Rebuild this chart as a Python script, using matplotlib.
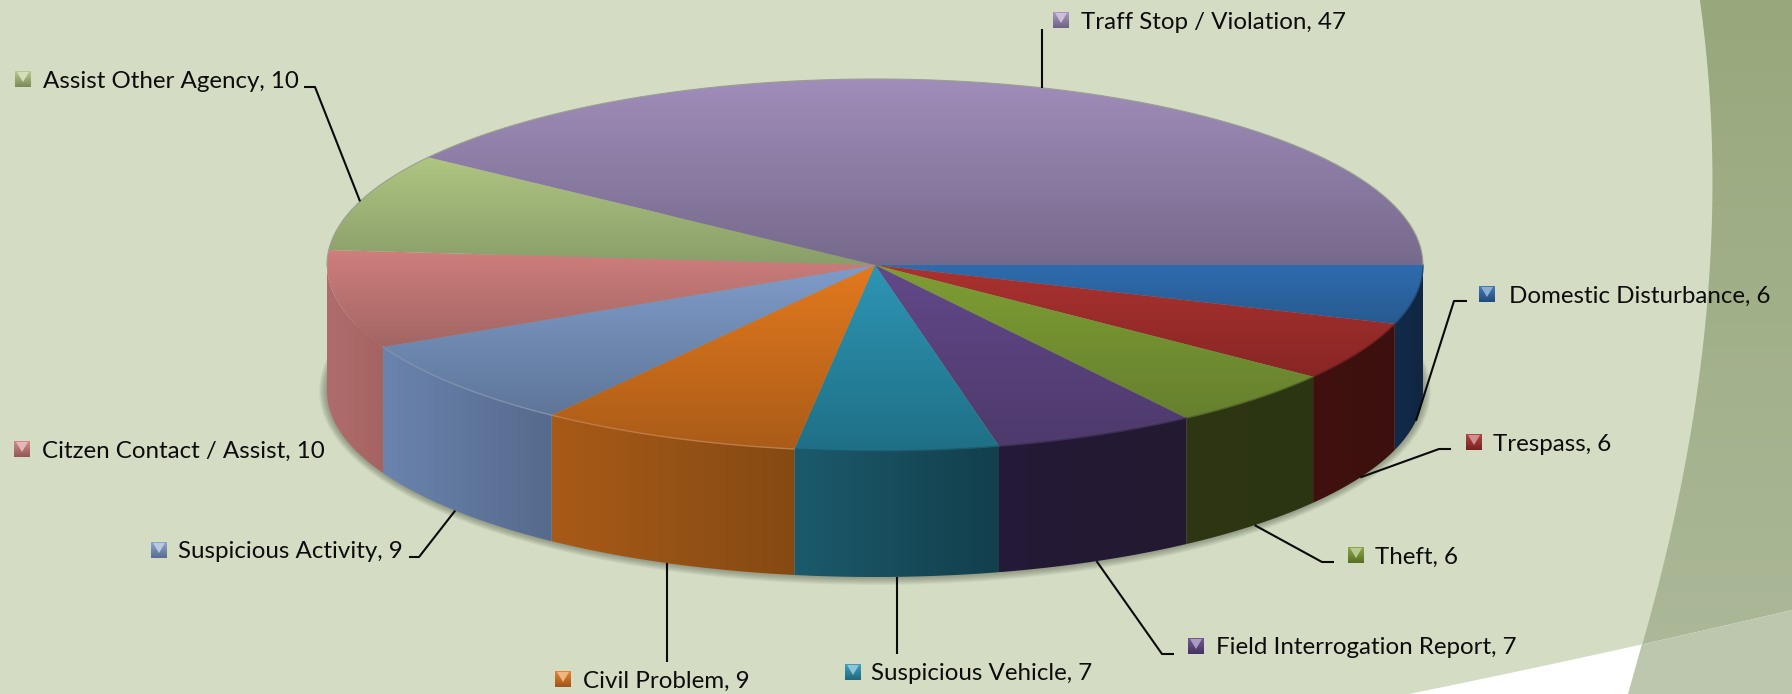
import matplotlib
matplotlib.use('Agg')
import matplotlib.pyplot as plt
import numpy as np
from matplotlib.colors import to_rgb
from matplotlib.patches import Polygon, Ellipse

plt.rcParams['font.family'] = ['Lato', 'DejaVu Sans']

# data, clockwise from 3 o'clock
categories = ['Domestic Disturbance', 'Trespass', 'Theft', 'Field Interrogation Report',
              'Suspicious Vehicle', 'Civil Problem', 'Suspicious Activity',
              'Citzen Contact / Assist', 'Assist Other Agency', 'Traff Stop / Violation']
values = [6, 6, 6, 7, 7, 9, 9, 10, 10, 47]

# colours of the top face (upper, lower) and of the wall (left, right)
top_hi = ['#2E6CAE', '#AA3230', '#7F9E33', '#624889', '#2D95B4', '#E2791E', '#7F9CC9', '#CF7E7C', '#AFC581', '#A08DBA']
top_lo = ['#285A90', '#882624', '#66802E', '#4E3A6C', '#1F7086', '#AB5C18', '#5F7699', '#A26664', '#8A9E6A', '#766A8C']
wall_l = ['#122B4C', '#40110F', '#2E3613', '#251937', '#1B5A6C', '#A85A18', '#6A84AE', '#B06C6C', '#8A9E6A', '#766A8C']
wall_r = ['#102641', '#3C100E', '#2C3512', '#231A30', '#133F4C', '#854A12', '#566A8C', '#A46462', '#8A9E6A', '#766A8C']

# layout of the labels, in pixels: key x, text x, y, leader elbow, leader end
key_x = [1479, 1466, 1348, 1188, 845, 555, 151, 14, 15, 1053]
text_x = [1509, 1493, 1375, 1216, 871, 583, 178, 42, 43, 1081]
label_y = [294, 442, 555, 646, 672, 679, 550, 449, 79, 20]
elbows = [(1454, 301), (1439, 449), (1322, 562), (1162, 654), None, None, (419, 557), None, (315, 87), None]
ends = [(1467, 301), (1451, 449), (1334, 562), (1174, 654), (897, 654), (667, 662), (409, 557), None, (304, 87), (1039, 29)]

W, H = 1792, 694
cx, cy, rx, ry, depth = 875, 265, 548, 186, 126
bg = '#D4DDC4'


def rim(deg, drop=0):
    # deg is measured clockwise from 3 o'clock
    t = np.radians(deg)
    return cx + rx * np.cos(t), cy + ry * np.sin(t) + drop


def fill_gradient(ax, patch, c1, c2, vertical=True, z=3):
    ax.add_patch(patch)
    xy = patch.get_xy()
    x0, y0 = xy.min(axis=0)
    x1, y1 = xy.max(axis=0)
    s = np.linspace(0, 1, 64)
    rgb = np.outer(1 - s, to_rgb(c1)) + np.outer(s, to_rgb(c2))
    img = rgb[:, None, :] if vertical else rgb[None, :, :]
    im = ax.imshow(img, extent=(x0, x1, y1, y0), aspect='auto', interpolation='bilinear', zorder=z)
    im.set_clip_path(patch)


def mix(c, other, f):
    return tuple((1 - f) * a + f * b for a, b in zip(to_rgb(c), to_rgb(other)))


fig = plt.figure(figsize=(W / 100, H / 100), dpi=100, facecolor=bg)
ax = fig.add_axes([0, 0, 1, 1])
ax.set_axis_off()

# page decoration on the right
yy = np.linspace(0, H, 60)
edge = np.polyval(np.polyfit([0, 170, 350, 643, 694], [1700, 1712, 1703, 1642, 1628], 3), yy)
band = Polygon(np.r_[np.c_[edge, yy], [[W, H], [W, 0]]], closed=True, fc='none', ec='none', zorder=1)
fill_gradient(ax, band, '#98A87C', '#ADB99A', z=1)
xc = np.linspace(1409, W, 40)
curve = np.polyval(np.polyfit([1409, 1648, 1792], [694, 643, 610], 2), xc)
ax.add_patch(Polygon(np.r_[np.c_[xc, curve], [[W, H], [1409, H]]], closed=True, fc='white', ec='none', zorder=1.2))
mask = xc >= 1642
ax.add_patch(Polygon(np.r_[np.c_[xc[mask], curve[mask]], [[W, H], [1628, H], [1642, 644]]], closed=True,
                     fc='#BDC7AE', ec='none', zorder=1.3))

# soft shadow under the pie
for k in range(8, 0, -1):
    ax.add_patch(Ellipse((cx, cy + depth), 2 * (rx + k), 2 * (ry + k), fc='#3A4030', ec='none',
                         alpha=0.06, zorder=2))

bounds = np.cumsum([0] + values) / sum(values) * 360
mids = (bounds[:-1] + bounds[1:]) / 2

# walls, front half only
for i in range(len(values)):
    a0, a1 = bounds[i], min(bounds[i + 1], 180)
    if a0 >= 180:
        continue
    arc = np.linspace(a0, a1, 60)
    pts = np.r_[[rim(a) for a in arc], [rim(a, depth) for a in arc[::-1]]]
    fill_gradient(ax, Polygon(pts, closed=True, fc='none', ec='none'), wall_l[i], wall_r[i], vertical=False, z=3)

# top face
for i in range(len(values)):
    arc = np.linspace(bounds[i], bounds[i + 1], 80)
    pts = np.r_[[(cx, cy)], [rim(a) for a in arc]]
    fill_gradient(ax, Polygon(pts, closed=True, fc='none', ec='none'), top_hi[i], top_lo[i], z=4)
    rim_pts = np.array([rim(a) for a in arc])
    if bounds[i + 1] > 180:
        ax.plot(*rim_pts[rim_pts[:, 1] <= cy + 2].T, color='#9AA090', lw=0.8, zorder=5)
    elif i in (5, 6, 7):
        ax.plot(*rim_pts.T, color=mix(top_lo[i], 'white', 0.2), lw=1, zorder=5)
    else:
        ax.plot(*rim_pts.T, color=mix(top_lo[i], 'black', 0.2), lw=1, zorder=5)

# leaders, hooked onto the rim at the middle of each slice
for i, end in enumerate(ends):
    if end is None:
        continue
    drop = depth if mids[i] < 180 else 0
    sx, sy = rim(mids[i], drop)
    if elbows[i] is None:
        px, py = [sx, sx], [sy, end[1]]
    else:
        px, py = [sx, elbows[i][0], end[0]], [sy, elbows[i][1], end[1]]
    ax.plot(px, py, color='#0A0A0A', lw=1.5, zorder=6, solid_capstyle='butt')

# labels with their little bevelled keys
for i, name in enumerate(categories):
    x, y, s = key_x[i], label_y[i], 16
    key = Polygon([(x, y - s / 2), (x + s, y - s / 2), (x + s, y + s / 2), (x, y + s / 2)], closed=True,
                  fc='none', ec='none')
    fill_gradient(ax, key, mix(top_hi[i], 'white', 0.1), mix(top_hi[i], 'black', 0.3), z=7)
    ax.add_patch(Polygon([(x + 2, y - s / 2 + 1), (x + s - 2, y - s / 2 + 1), (x + s / 2, y + 3)], closed=True,
                         fc=mix(top_hi[i], 'white', 0.45), ec='none', zorder=8))
    ax.text(text_x[i], y + 2, f'{name}, {values[i]}', fontsize=17.4, color='#0C0C0C', va='center', ha='left', zorder=9)

ax.set_xlim(0, W)
ax.set_ylim(H, 0)
fig.savefig('out.png', dpi=100, facecolor=bg)
